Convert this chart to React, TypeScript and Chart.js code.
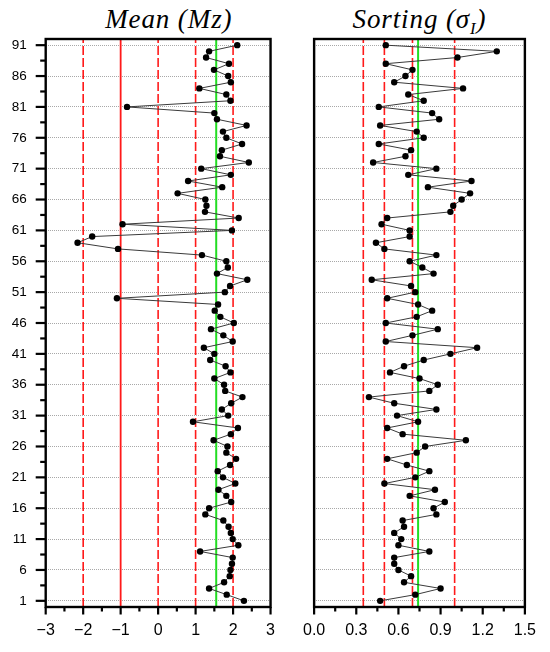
import React, { useEffect, useRef } from "react";
import { Chart, registerables } from "chart.js";

Chart.register(...registerables);

// Mean (Mz) for samples 1..91
const meanValues = [
  2.29, 1.83, 1.36, 1.76, 1.91, 1.93, 1.97, 1.99, 1.12, 2.14,
  1.99, 1.94, 1.88, 1.74, 1.26, 1.36, 1.95, 1.82, 1.61, 2.06,
  1.73, 1.59, 1.92, 2.08, 1.82, 1.85, 1.48, 1.94, 2.13, 0.93,
  1.87, 1.70, 1.95, 2.25, 1.79, 1.76, 1.50, 1.93, 1.80, 1.39,
  1.50, 1.22, 1.99, 1.74, 1.41, 2.02, 1.66, 1.51, 1.60, -1.10,
  1.78, 1.92, 2.38, 1.57, 1.86, 1.82, 1.17, -1.07, -2.15, -1.76,
  1.97, -0.95, 2.15, 1.25, 1.29, 1.26, 0.52, 1.71, 0.80, 1.94,
  1.15, 2.42, 1.65, 1.70, 2.24, 1.82, 1.73, 2.36, 1.57, 1.50,
  -0.83, 1.93, 1.82, 1.10, 1.94, 1.87, 1.49, 1.89, 1.28, 1.36,
  2.11,
];

// Sorting (sigma I) for samples 1..91
const sortValues = [
  0.47, 0.72, 0.90, 0.64, 0.69, 0.60, 0.57, 0.57, 0.82, 0.60,
  0.62, 0.57, 0.64, 0.63, 0.87, 0.85, 0.93, 0.68, 0.86, 0.50,
  0.72, 0.82, 0.66, 0.52, 0.73, 0.79, 1.08, 0.63, 0.52, 0.74,
  0.59, 0.87, 0.57, 0.39, 0.82, 0.88, 0.75, 0.54, 0.64, 0.78,
  0.97, 1.16, 0.51, 0.70, 0.88, 0.51, 0.73, 0.84, 0.74, 0.52,
  0.72, 0.69, 0.41, 0.85, 0.77, 0.68, 0.87, 0.50, 0.44, 0.68,
  0.68, 0.48, 0.52, 0.97, 0.99, 1.05, 1.11, 0.81, 1.12, 0.67,
  0.87, 0.42, 0.65, 0.69, 0.46, 0.78, 0.73, 0.47, 0.89, 0.84,
  0.46, 0.78, 0.67, 1.06, 0.57, 0.65, 0.70, 0.51, 1.02, 1.30,
  0.51,
];

const samples = meanValues.map((_, i) => i + 1);

const sampleTicks = [1, 6, 11, 16, 21, 26, 31, 36, 41, 46, 51, 56, 61, 66, 71, 76, 81, 86, 91];
const sampleMinorTicks = [3.5, 8.5, 13.5, 18.5, 23.5, 28.5, 33.5, 38.5, 43.5, 48.5, 53.5, 58.5, 63.5, 68.5, 73.5, 78.5, 83.5, 88.5];

const meanTicks = [-3, -2, -1, 0, 1, 2, 3];
const meanMinorTicks = [-2.5, -1.5, -0.5, 0.5, 1.5, 2.5];
const sortTicks = [0, 0.3, 0.6, 0.9, 1.2, 1.5];
const sortMinorTicks = [0.15, 0.45, 0.75, 1.05, 1.35];

const meanDashed = [-2, 0, 1, 2];
const meanSolid = [-1];
const meanAverage = 1.55;
const sortDashed = [0.35, 0.5, 0.7, 1.0];
const sortSolid: number[] = [];
const sortAverage = 0.74;

const Y_MIN = 0;
const Y_MAX = 92;

const SANS = "'Liberation Sans', Arial, sans-serif";
const SERIF = "'Liberation Serif', 'Times New Roman', serif";

function vline(x: number, color: string, width: number, dash: number[], order: number) {
  return {
    type: "scatter",
    data: [
      { x, y: Y_MIN },
      { x, y: Y_MAX },
    ],
    showLine: true,
    borderColor: color,
    borderWidth: width,
    borderDash: dash,
    pointRadius: 0,
    order,
  };
}

function framePlugin(xMajor: number[], xMinor: number[], yMajor: number[], yMinor: number[]) {
  return {
    id: "frameTicks",
    afterDraw(chart: any) {
      const { ctx, chartArea: a, scales } = chart;
      ctx.save();
      ctx.strokeStyle = "#000";
      ctx.lineCap = "butt";
      ctx.setLineDash([]);
      const seg = (x1: number, y1: number, x2: number, y2: number, w: number) => {
        ctx.lineWidth = w;
        ctx.beginPath();
        ctx.moveTo(x1, y1);
        ctx.lineTo(x2, y2);
        ctx.stroke();
      };
      xMajor.forEach((v) => {
        const px = scales.x.getPixelForValue(v);
        seg(px, a.bottom, px, a.bottom + 7.5, 2.2);
      });
      xMinor.forEach((v) => {
        const px = scales.x.getPixelForValue(v);
        seg(px, a.bottom, px, a.bottom + 4.5, 2.2);
      });
      yMajor.forEach((v) => {
        const py = scales.y.getPixelForValue(v);
        seg(a.left - 10, py, a.left, py, 2.2);
      });
      yMinor.forEach((v) => {
        const py = scales.y.getPixelForValue(v);
        seg(a.left - 5.5, py, a.left, py, 2.2);
      });
      ctx.lineWidth = 2.4;
      ctx.strokeRect(a.left, a.top, a.right - a.left, a.bottom - a.top);
      ctx.restore();
    },
  };
}

type PanelSpec = {
  values: number[];
  xMin: number;
  xMax: number;
  xTicks: number[];
  xMinor: number[];
  dashed: number[];
  solid: number[];
  average: number;
  yAxisWidth: number;
  padRight: number;
  showY: boolean;
  fmt: (v: number) => string;
};

function makeConfig(s: PanelSpec): any {
  const series = {
    type: "scatter",
    data: s.values.map((v, i) => ({ x: v, y: samples[i] })),
    showLine: true,
    borderColor: "#3a3a3a",
    borderWidth: 1,
    pointRadius: 3.2,
    pointBackgroundColor: "#000",
    pointBorderColor: "#000",
    pointBorderWidth: 0,
    order: 0,
  };
  const datasets: any[] = [series];
  s.dashed.forEach((x) => datasets.push(vline(x, "#ff1a1a", 1.6, [9, 3], 2)));
  s.solid.forEach((x) => datasets.push(vline(x, "#ff1a1a", 1.8, [], 2)));
  datasets.push(vline(s.average, "#22dd22", 2, [], 1));

  return {
    type: "scatter",
    data: { datasets },
    options: {
      animation: false,
      responsive: false,
      maintainAspectRatio: false,
      layout: { padding: { top: 39, right: s.padRight, left: 0, bottom: 0 } },
      plugins: {
        legend: { display: false },
        tooltip: { enabled: false },
        title: { display: false },
      },
      scales: {
        x: {
          type: "linear",
          min: s.xMin,
          max: s.xMax,
          afterBuildTicks: (sc: any) => {
            sc.ticks = s.xTicks.map((v) => ({ value: v }));
          },
          afterFit: (sc: any) => {
            sc.height = 45;
          },
          grid: { display: false, drawTicks: false },
          border: { display: false },
          ticks: {
            autoSkip: false,
            maxRotation: 0,
            padding: 14,
            color: "#000",
            font: { family: SANS, size: 16 },
            callback: (v: any) => s.fmt(Number(v)),
          },
        },
        y: {
          type: "linear",
          min: Y_MIN,
          max: Y_MAX,
          afterBuildTicks: (sc: any) => {
            sc.ticks = sampleTicks.map((v) => ({ value: v }));
          },
          afterFit: (sc: any) => {
            sc.width = s.yAxisWidth;
          },
          grid: { display: true, drawTicks: false, color: "#a8a8a8", lineWidth: 1 },
          border: { display: false, dash: [1, 1] },
          ticks: {
            display: s.showY,
            autoSkip: false,
            padding: 19,
            color: "#000",
            font: { family: SANS, size: 13.5 },
          },
        },
      },
    },
    plugins: [framePlugin(s.xTicks, s.xMinor, s.showY ? sampleTicks : [], s.showY ? sampleMinorTicks : [])],
  };
}

function Panel({ left, width, spec }: { left: number; width: number; spec: PanelSpec }) {
  const ref = useRef<HTMLCanvasElement | null>(null);
  useEffect(() => {
    if (!ref.current) return;
    const chart = new Chart(ref.current, makeConfig(spec));
    return () => chart.destroy();
  }, []);
  return (
    <canvas
      ref={ref}
      width={width}
      height={652}
      style={{ position: "absolute", left, top: 0, width, height: 652 }}
    />
  );
}

const fmtMean = (v: number) => (v < 0 ? "\u2212" + Math.abs(v) : String(v));
const fmtSort = (v: number) => v.toFixed(1);

const titleStyle: React.CSSProperties = {
  position: "absolute",
  top: 6,
  width: 240,
  textAlign: "center",
  fontFamily: SERIF,
  fontStyle: "italic",
  fontSize: 27,
  lineHeight: "27px",
  letterSpacing: "0.9px",
  whiteSpace: "nowrap",
  color: "#000",
};

export default function App() {
  return (
    <div
      style={{
        position: "fixed",
        left: 0,
        top: 0,
        width: 550,
        height: 652,
        background: "#fff",
        overflow: "hidden",
      }}
    >
      <div style={{ ...titleStyle, left: 168.8 - 120 }}>Mean (Mz)</div>
      <div style={{ ...titleStyle, left: 419.5 - 120 }}>
        Sorting (σ
        <span style={{ fontSize: "0.62em", position: "relative", top: "0.35em" }}>I</span>)
      </div>
      <Panel
        left={0}
        width={289}
        spec={{
          values: meanValues,
          xMin: -3,
          xMax: 3,
          xTicks: meanTicks,
          xMinor: meanMinorTicks,
          dashed: meanDashed,
          solid: meanSolid,
          average: meanAverage,
          yAxisWidth: 45.7,
          padRight: 289 - 276.7,
          showY: true,
          fmt: fmtMean,
        }}
      />
      <Panel
        left={289}
        width={261}
        spec={{
          values: sortValues,
          xMin: 0,
          xMax: 1.5,
          xTicks: sortTicks,
          xMinor: sortMinorTicks,
          dashed: sortDashed,
          solid: sortSolid,
          average: sortAverage,
          yAxisWidth: 301.5 - 289,
          padRight: 261 - (532 - 289),
          showY: false,
          fmt: fmtSort,
        }}
      />
    </div>
  );
}
